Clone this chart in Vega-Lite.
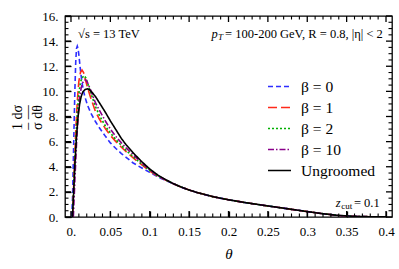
{
  "$schema": "https://vega.github.io/schema/vega-lite/v6.json",
  "width": 327,
  "height": 201,
  "autosize": {"type": "none"},
  "padding": {"left": 65, "top": 16, "right": 7, "bottom": 52},
  "background": "white",
  "config": {
    "view": {"stroke": "#000", "strokeWidth": 1.3},
    "font": "Liberation Serif",
    "axis": {"domain": false, "labelColor": "#000", "titleColor": "#000", "grid": false, "labelFont": "Liberation Serif", "titleFont": "Liberation Serif", "labelOverlap": false, "labelFlush": false}
  },
  "datasets": {
    "xmajor": [{"t":0},{"t":0.05},{"t":0.1},{"t":0.15},{"t":0.2},{"t":0.25},{"t":0.3},{"t":0.35},{"t":0.4}],
    "xminor": [{"t":0.01},{"t":0.02},{"t":0.03},{"t":0.04},{"t":0.06},{"t":0.07},{"t":0.08},{"t":0.09},{"t":0.11},{"t":0.12},{"t":0.13},{"t":0.14},{"t":0.16},{"t":0.17},{"t":0.18},{"t":0.19},{"t":0.21},{"t":0.22},{"t":0.23},{"t":0.24},{"t":0.26},{"t":0.27},{"t":0.28},{"t":0.29},{"t":0.31},{"t":0.32},{"t":0.33},{"t":0.34},{"t":0.36},{"t":0.37},{"t":0.38},{"t":0.39}],
    "ymajor": [{"v":0},{"v":2},{"v":4},{"v":6},{"v":8},{"v":10},{"v":12},{"v":14},{"v":16}],
    "yminor": [{"v":0.5},{"v":1},{"v":1.5},{"v":2.5},{"v":3},{"v":3.5},{"v":4.5},{"v":5},{"v":5.5},{"v":6.5},{"v":7},{"v":7.5},{"v":8.5},{"v":9},{"v":9.5},{"v":10.5},{"v":11},{"v":11.5},{"v":12.5},{"v":13},{"v":13.5},{"v":14.5},{"v":15},{"v":15.5}]
  },
  "data": {"values": [
    {"series":"β = 0","theta":0.001,"value":0},{"series":"β = 0","theta":0.002,"value":1.5},{"series":"β = 0","theta":0.003,"value":4.5},{"series":"β = 0","theta":0.004,"value":7.5},{"series":"β = 0","theta":0.005,"value":10.2},{"series":"β = 0","theta":0.006,"value":12.3},{"series":"β = 0","theta":0.007,"value":13.4},{"series":"β = 0","theta":0.008,"value":13.6},{"series":"β = 0","theta":0.009,"value":13.4},{"series":"β = 0","theta":0.01,"value":12.9},{"series":"β = 0","theta":0.012,"value":11.7},{"series":"β = 0","theta":0.014,"value":10.7},{"series":"β = 0","theta":0.016,"value":10.0},{"series":"β = 0","theta":0.018,"value":9.5},{"series":"β = 0","theta":0.021,"value":8.9},{"series":"β = 0","theta":0.025,"value":8.3},{"series":"β = 0","theta":0.031,"value":7.6},{"series":"β = 0","theta":0.036,"value":7.1},{"series":"β = 0","theta":0.044,"value":6.4},{"series":"β = 0","theta":0.05,"value":5.9},{"series":"β = 0","theta":0.057,"value":5.45},{"series":"β = 0","theta":0.064,"value":5.05},{"series":"β = 0","theta":0.07,"value":4.75},{"series":"β = 0","theta":0.079,"value":4.3},{"series":"β = 0","theta":0.09,"value":3.9},{"series":"β = 0","theta":0.1,"value":3.55},{"series":"β = 0","theta":0.11,"value":3.2},{"series":"β = 0","theta":0.12,"value":2.92},{"series":"β = 0","theta":0.13,"value":2.65},{"series":"β = 0","theta":0.14,"value":2.38},{"series":"β = 0","theta":0.15,"value":2.15},{"series":"β = 0","theta":0.16,"value":1.95},{"series":"β = 0","theta":0.18,"value":1.62},{"series":"β = 0","theta":0.2,"value":1.37},{"series":"β = 0","theta":0.22,"value":1.16},{"series":"β = 0","theta":0.24,"value":0.97},{"series":"β = 0","theta":0.26,"value":0.79},{"series":"β = 0","theta":0.28,"value":0.61},{"series":"β = 0","theta":0.3,"value":0.43},{"series":"β = 0","theta":0.32,"value":0.26},{"series":"β = 0","theta":0.34,"value":0.12},{"series":"β = 0","theta":0.36,"value":0.05},{"series":"β = 0","theta":0.38,"value":0.02},{"series":"β = 0","theta":0.4,"value":0.01},
    {"series":"β = 1","theta":0.002,"value":0},{"series":"β = 1","theta":0.004,"value":3.5},{"series":"β = 1","theta":0.006,"value":6.8},{"series":"β = 1","theta":0.008,"value":9.2},{"series":"β = 1","theta":0.01,"value":10.8},{"series":"β = 1","theta":0.012,"value":11.5},{"series":"β = 1","theta":0.014,"value":11.7},{"series":"β = 1","theta":0.016,"value":11.5},{"series":"β = 1","theta":0.018,"value":11.0},{"series":"β = 1","theta":0.021,"value":10.3},{"series":"β = 1","theta":0.025,"value":9.5},{"series":"β = 1","theta":0.031,"value":8.4},{"series":"β = 1","theta":0.036,"value":7.8},{"series":"β = 1","theta":0.044,"value":7.0},{"series":"β = 1","theta":0.05,"value":6.5},{"series":"β = 1","theta":0.057,"value":6.0},{"series":"β = 1","theta":0.064,"value":5.55},{"series":"β = 1","theta":0.07,"value":5.2},{"series":"β = 1","theta":0.079,"value":4.7},{"series":"β = 1","theta":0.09,"value":4.15},{"series":"β = 1","theta":0.1,"value":3.65},{"series":"β = 1","theta":0.11,"value":3.25},{"series":"β = 1","theta":0.12,"value":2.95},{"series":"β = 1","theta":0.13,"value":2.65},{"series":"β = 1","theta":0.14,"value":2.38},{"series":"β = 1","theta":0.15,"value":2.15},{"series":"β = 1","theta":0.16,"value":1.95},{"series":"β = 1","theta":0.18,"value":1.62},{"series":"β = 1","theta":0.2,"value":1.37},{"series":"β = 1","theta":0.22,"value":1.16},{"series":"β = 1","theta":0.24,"value":0.97},{"series":"β = 1","theta":0.26,"value":0.79},{"series":"β = 1","theta":0.28,"value":0.61},{"series":"β = 1","theta":0.3,"value":0.43},{"series":"β = 1","theta":0.32,"value":0.26},{"series":"β = 1","theta":0.34,"value":0.12},{"series":"β = 1","theta":0.36,"value":0.05},{"series":"β = 1","theta":0.38,"value":0.02},{"series":"β = 1","theta":0.4,"value":0.01},
    {"series":"β = 2","theta":0.002,"value":0},{"series":"β = 2","theta":0.004,"value":3.0},{"series":"β = 2","theta":0.006,"value":6.0},{"series":"β = 2","theta":0.008,"value":8.3},{"series":"β = 2","theta":0.01,"value":9.8},{"series":"β = 2","theta":0.012,"value":10.7},{"series":"β = 2","theta":0.014,"value":11.1},{"series":"β = 2","theta":0.017,"value":11.25},{"series":"β = 2","theta":0.019,"value":11.05},{"series":"β = 2","theta":0.021,"value":10.7},{"series":"β = 2","theta":0.025,"value":9.9},{"series":"β = 2","theta":0.031,"value":8.8},{"series":"β = 2","theta":0.036,"value":8.1},{"series":"β = 2","theta":0.044,"value":7.2},{"series":"β = 2","theta":0.05,"value":6.7},{"series":"β = 2","theta":0.057,"value":6.15},{"series":"β = 2","theta":0.064,"value":5.7},{"series":"β = 2","theta":0.07,"value":5.3},{"series":"β = 2","theta":0.079,"value":4.8},{"series":"β = 2","theta":0.09,"value":4.2},{"series":"β = 2","theta":0.1,"value":3.7},{"series":"β = 2","theta":0.11,"value":3.28},{"series":"β = 2","theta":0.12,"value":2.96},{"series":"β = 2","theta":0.13,"value":2.65},{"series":"β = 2","theta":0.14,"value":2.38},{"series":"β = 2","theta":0.15,"value":2.15},{"series":"β = 2","theta":0.16,"value":1.95},{"series":"β = 2","theta":0.18,"value":1.62},{"series":"β = 2","theta":0.2,"value":1.37},{"series":"β = 2","theta":0.22,"value":1.16},{"series":"β = 2","theta":0.24,"value":0.97},{"series":"β = 2","theta":0.26,"value":0.79},{"series":"β = 2","theta":0.28,"value":0.61},{"series":"β = 2","theta":0.3,"value":0.43},{"series":"β = 2","theta":0.32,"value":0.26},{"series":"β = 2","theta":0.34,"value":0.12},{"series":"β = 2","theta":0.36,"value":0.05},{"series":"β = 2","theta":0.38,"value":0.02},{"series":"β = 2","theta":0.4,"value":0.01},
    {"series":"β = 10","theta":0.003,"value":0},{"series":"β = 10","theta":0.005,"value":3.0},{"series":"β = 10","theta":0.007,"value":5.8},{"series":"β = 10","theta":0.009,"value":8.0},{"series":"β = 10","theta":0.011,"value":9.5},{"series":"β = 10","theta":0.013,"value":10.3},{"series":"β = 10","theta":0.015,"value":10.7},{"series":"β = 10","theta":0.017,"value":10.9},{"series":"β = 10","theta":0.019,"value":10.9},{"series":"β = 10","theta":0.021,"value":10.7},{"series":"β = 10","theta":0.025,"value":10.1},{"series":"β = 10","theta":0.031,"value":9.1},{"series":"β = 10","theta":0.036,"value":8.5},{"series":"β = 10","theta":0.044,"value":7.6},{"series":"β = 10","theta":0.05,"value":7.0},{"series":"β = 10","theta":0.057,"value":6.4},{"series":"β = 10","theta":0.064,"value":5.9},{"series":"β = 10","theta":0.07,"value":5.5},{"series":"β = 10","theta":0.079,"value":4.95},{"series":"β = 10","theta":0.09,"value":4.3},{"series":"β = 10","theta":0.1,"value":3.75},{"series":"β = 10","theta":0.11,"value":3.3},{"series":"β = 10","theta":0.12,"value":2.97},{"series":"β = 10","theta":0.13,"value":2.65},{"series":"β = 10","theta":0.14,"value":2.38},{"series":"β = 10","theta":0.15,"value":2.15},{"series":"β = 10","theta":0.16,"value":1.95},{"series":"β = 10","theta":0.18,"value":1.62},{"series":"β = 10","theta":0.2,"value":1.37},{"series":"β = 10","theta":0.22,"value":1.16},{"series":"β = 10","theta":0.24,"value":0.97},{"series":"β = 10","theta":0.26,"value":0.79},{"series":"β = 10","theta":0.28,"value":0.61},{"series":"β = 10","theta":0.3,"value":0.43},{"series":"β = 10","theta":0.32,"value":0.26},{"series":"β = 10","theta":0.34,"value":0.12},{"series":"β = 10","theta":0.36,"value":0.05},{"series":"β = 10","theta":0.38,"value":0.02},{"series":"β = 10","theta":0.4,"value":0.01},
    {"series":"Ungroomed","theta":0.002,"value":0},{"series":"Ungroomed","theta":0.005,"value":4.3},{"series":"Ungroomed","theta":0.007,"value":6.4},{"series":"Ungroomed","theta":0.009,"value":8.0},{"series":"Ungroomed","theta":0.011,"value":9.0},{"series":"Ungroomed","theta":0.013,"value":9.6},{"series":"Ungroomed","theta":0.015,"value":9.95},{"series":"Ungroomed","theta":0.018,"value":10.15},{"series":"Ungroomed","theta":0.021,"value":10.2},{"series":"Ungroomed","theta":0.024,"value":10.1},{"series":"Ungroomed","theta":0.027,"value":9.9},{"series":"Ungroomed","theta":0.031,"value":9.6},{"series":"Ungroomed","theta":0.036,"value":9.1},{"series":"Ungroomed","theta":0.044,"value":8.3},{"series":"Ungroomed","theta":0.05,"value":7.65},{"series":"Ungroomed","theta":0.057,"value":6.95},{"series":"Ungroomed","theta":0.064,"value":6.25},{"series":"Ungroomed","theta":0.07,"value":5.75},{"series":"Ungroomed","theta":0.079,"value":5.1},{"series":"Ungroomed","theta":0.09,"value":4.4},{"series":"Ungroomed","theta":0.1,"value":3.82},{"series":"Ungroomed","theta":0.11,"value":3.35},{"series":"Ungroomed","theta":0.12,"value":2.98},{"series":"Ungroomed","theta":0.13,"value":2.65},{"series":"Ungroomed","theta":0.14,"value":2.38},{"series":"Ungroomed","theta":0.15,"value":2.15},{"series":"Ungroomed","theta":0.16,"value":1.95},{"series":"Ungroomed","theta":0.18,"value":1.62},{"series":"Ungroomed","theta":0.2,"value":1.37},{"series":"Ungroomed","theta":0.22,"value":1.16},{"series":"Ungroomed","theta":0.24,"value":0.97},{"series":"Ungroomed","theta":0.26,"value":0.79},{"series":"Ungroomed","theta":0.28,"value":0.61},{"series":"Ungroomed","theta":0.3,"value":0.43},{"series":"Ungroomed","theta":0.32,"value":0.26},{"series":"Ungroomed","theta":0.34,"value":0.12},{"series":"Ungroomed","theta":0.36,"value":0.05},{"series":"Ungroomed","theta":0.38,"value":0.02},{"series":"Ungroomed","theta":0.4,"value":0.01}
  ]},
  "layer": [
    {
      "mark": {"type": "line", "strokeWidth": 1.6, "clip": true},
      "encoding": {
        "x": {"field": "theta", "type": "quantitative",
          "scale": {"domain": [-0.0076, 0.4076], "nice": false, "zero": false},
          "axis": {"orient": "bottom", "offset": -6, "title": "θ", "titleFontStyle": "italic", "titleFontSize": 15, "titleFontWeight": "normal", "titleY": 42, "titleBaseline": "middle",
            "values": [0,0.05,0.1,0.15,0.2,0.25,0.3,0.35,0.4],
            "ticks": true, "tickSize": 6, "tickColor": "black", "tickWidth": 1.3,
            "labelExpr": "datum.value == 0 ? '0.' : format(datum.value, '~g')",
            "labelFontSize": 13, "labelPadding": 8, "labelAngle": 0}},
        "y": {"field": "value", "type": "quantitative",
          "scale": {"domain": [0, 16], "nice": false},
          "axis": {"orient": "left", "offset": -6, "title": ["1  dσ", "–  —", "σ  dθ"], "titleFontSize": 14, "titleFontWeight": "normal", "titleAngle": 270, "titleX": -54, "titleY": 101, "titleAlign": "center", "titleBaseline": "middle", "titleLineHeight": 10,
            "values": [0,2,4,6,8,10,12,14,16],
            "ticks": true, "tickSize": 6, "tickColor": "black", "tickWidth": 1.3,
            "labelExpr": "format(datum.value, 'd') + '.'",
            "labelFontSize": 13, "labelPadding": 7}},
        "color": {"field": "series", "type": "nominal",
          "scale": {"domain": ["β = 0", "β = 1", "β = 2", "β = 10", "Ungroomed"], "range": ["#2e2eff", "#ff2a1a", "#00b000", "#8a008a", "#000000"]},
          "legend": {"orient": "none", "legendX": 202, "legendY": 58, "title": null, "symbolType": "stroke", "symbolSize": 529, "symbolStrokeWidth": 1.6, "labelFontSize": 15.5, "labelFont": "Liberation Serif", "labelColor": "#000", "labelOffset": 9, "rowPadding": -3.5}},
        "strokeDash": {"field": "series", "type": "nominal",
          "scale": {"domain": ["β = 0", "β = 1", "β = 2", "β = 10", "Ungroomed"], "range": [[5, 3], [9, 4], [2, 2], [6, 2, 1.5, 2], [1, 0]]},
          "legend": {"orient": "none", "legendX": 202, "legendY": 58, "title": null, "symbolType": "stroke", "symbolSize": 529, "symbolStrokeWidth": 1.6, "labelFontSize": 15.5, "labelFont": "Liberation Serif", "labelColor": "#000", "labelOffset": 9, "rowPadding": -3.5}}
      }
    },
    {
      "data": {"name": "xmajor"},
      "mark": {"type": "rule", "color": "black", "strokeWidth": 1.3},
      "encoding": {
        "x": {"field": "t", "type": "quantitative", "axis": null},
        "y": {"datum": 0, "type": "quantitative", "axis": null},
        "y2": {"datum": 0.48}
      }
    },
    {
      "data": {"name": "xmajor"},
      "mark": {"type": "rule", "color": "black", "strokeWidth": 1.3},
      "encoding": {
        "x": {"field": "t", "type": "quantitative", "axis": null},
        "y": {"datum": 16, "type": "quantitative", "axis": null},
        "y2": {"datum": 15.52}
      }
    },
    {
      "data": {"name": "xminor"},
      "mark": {"type": "rule", "color": "black", "strokeWidth": 1.1},
      "encoding": {
        "x": {"field": "t", "type": "quantitative", "axis": null},
        "y": {"datum": 0, "type": "quantitative", "axis": null},
        "y2": {"datum": 0.28}
      }
    },
    {
      "data": {"name": "xminor"},
      "mark": {"type": "rule", "color": "black", "strokeWidth": 1.1},
      "encoding": {
        "x": {"field": "t", "type": "quantitative", "axis": null},
        "y": {"datum": 16, "type": "quantitative", "axis": null},
        "y2": {"datum": 15.72}
      }
    },
    {
      "data": {"name": "ymajor"},
      "mark": {"type": "rule", "color": "black", "strokeWidth": 1.3},
      "encoding": {
        "y": {"field": "v", "type": "quantitative", "axis": null},
        "x": {"datum": -0.0076, "type": "quantitative", "axis": null},
        "x2": {"datum": 0.00002}
      }
    },
    {
      "data": {"name": "ymajor"},
      "mark": {"type": "rule", "color": "black", "strokeWidth": 1.3},
      "encoding": {
        "y": {"field": "v", "type": "quantitative", "axis": null},
        "x": {"datum": 0.4076, "type": "quantitative", "axis": null},
        "x2": {"datum": 0.39998}
      }
    },
    {
      "data": {"name": "yminor"},
      "mark": {"type": "rule", "color": "black", "strokeWidth": 1.1},
      "encoding": {
        "y": {"field": "v", "type": "quantitative", "axis": null},
        "x": {"datum": -0.0076, "type": "quantitative", "axis": null},
        "x2": {"datum": -0.00316}
      }
    },
    {
      "data": {"name": "yminor"},
      "mark": {"type": "rule", "color": "black", "strokeWidth": 1.1},
      "encoding": {
        "y": {"field": "v", "type": "quantitative", "axis": null},
        "x": {"datum": 0.4076, "type": "quantitative", "axis": null},
        "x2": {"datum": 0.40316}
      }
    },
    {
      "data": {"values": [{}]},
      "mark": {"type": "text", "text": "√s = 13 TeV", "align": "left", "baseline": "middle", "fontSize": 12.5, "font": "Liberation Serif", "color": "#000"},
      "encoding": {
        "x": {"datum": 0.009, "type": "quantitative", "axis": null},
        "y": {"datum": 14.6, "type": "quantitative", "axis": null}
      }
    },
    {
      "data": {"values": [{}]},
      "mark": {"type": "text", "text": " = 100-200 GeV, R = 0.8, |η| < 2", "align": "right", "baseline": "middle", "fontSize": 12.5, "font": "Liberation Serif", "color": "#000"},
      "encoding": {
        "x": {"datum": 0.396, "type": "quantitative", "axis": null},
        "y": {"datum": 14.6, "type": "quantitative", "axis": null}
      }
    },
    {
      "data": {"values": [{}]},
      "mark": {"type": "text", "text": "T", "align": "right", "baseline": "middle", "fontSize": 9, "dy": 3, "font": "Liberation Serif", "fontStyle": "italic", "color": "#000"},
      "encoding": {
        "x": {"datum": 0.193, "type": "quantitative", "axis": null},
        "y": {"datum": 14.6, "type": "quantitative", "axis": null}
      }
    },
    {
      "data": {"values": [{}]},
      "mark": {"type": "text", "text": "p", "align": "right", "baseline": "middle", "fontSize": 12.5, "font": "Liberation Serif", "fontStyle": "italic", "color": "#000"},
      "encoding": {
        "x": {"datum": 0.1865, "type": "quantitative", "axis": null},
        "y": {"datum": 14.6, "type": "quantitative", "axis": null}
      }
    },
    {
      "data": {"values": [{}]},
      "mark": {"type": "text", "text": " = 0.1", "align": "right", "baseline": "middle", "fontSize": 12.5, "font": "Liberation Serif", "color": "#000"},
      "encoding": {
        "x": {"datum": 0.392, "type": "quantitative", "axis": null},
        "y": {"datum": 1.15, "type": "quantitative", "axis": null}
      }
    },
    {
      "data": {"values": [{}]},
      "mark": {"type": "text", "text": "cut", "align": "right", "baseline": "middle", "fontSize": 9, "dy": 3, "font": "Liberation Serif", "color": "#000"},
      "encoding": {
        "x": {"datum": 0.357, "type": "quantitative", "axis": null},
        "y": {"datum": 1.15, "type": "quantitative", "axis": null}
      }
    },
    {
      "data": {"values": [{}]},
      "mark": {"type": "text", "text": "z", "align": "right", "baseline": "middle", "fontSize": 12.5, "font": "Liberation Serif", "fontStyle": "italic", "color": "#000"},
      "encoding": {
        "x": {"datum": 0.3425, "type": "quantitative", "axis": null},
        "y": {"datum": 1.15, "type": "quantitative", "axis": null}
      }
    }
  ],
  "resolve": {"axis": {"x": "independent", "y": "independent"}}
}
